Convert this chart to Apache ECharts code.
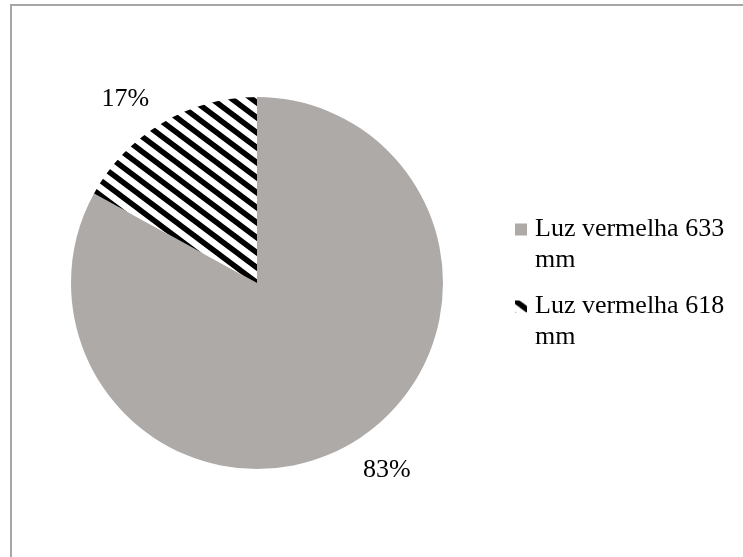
<!DOCTYPE html>
<html><head><meta charset="utf-8">
<script src="https://cdn.jsdelivr.net/npm/echarts@6/dist/echarts.min.js"></script>
<style>html,body{margin:0;padding:0;background:#fff}#c{width:743px;height:557px}</style>
</head><body><div id="c"></div>
<script>
var categories = ['Luz vermelha 633 mm', 'Luz vermelha 618 mm'];
var values = [83, 17];

function stripe() {
  var w = 20, h = 15;
  var cv = document.createElement('canvas');
  cv.width = w; cv.height = h;
  var ctx = cv.getContext('2d');
  ctx.fillStyle = '#fff'; ctx.fillRect(0, 0, w, h);
  ctx.strokeStyle = '#000'; ctx.lineWidth = 5.5;
  [-w, 0, w].forEach(function (o) {
    ctx.beginPath(); ctx.moveTo(o - w, -h); ctx.lineTo(o + 2 * w, 2 * h); ctx.stroke();
  });
  return cv;
}

var chart = echarts.init(document.getElementById('c'), null, {renderer: 'canvas'});
var font = '"Liberation Serif", "Times New Roman", serif';
chart.setOption({
  animation: false,
  graphic: [{
    type: 'rect', shape: {x: 11, y: 5, width: 800, height: 700},
    style: {fill: 'none', stroke: '#a6a6a6', lineWidth: 2}, silent: true
  }],
  legend: {
    orient: 'vertical', left: 510, top: 178,
    itemWidth: 12, itemHeight: 12, itemGap: -16, icon: 'rect',
    textStyle: {fontFamily: font, fontSize: 26, color: '#000', lineHeight: 31,
      padding: [0, 0, 0, 3]},
    formatter: function (n) { return ' \n' + n.replace(' mm', '\nmm'); },
    data: categories
  },
  series: [{
    type: 'pie', center: [257, 283], radius: 186,
    startAngle: 90, clockwise: true,
    label: {show: true, position: 'outside', formatter: '{d}%',
      fontFamily: font, fontSize: 26, color: '#000'},
    labelLine: {show: false, length: 28, length2: 0},
    labelLayout: function (p) {
      return p.dataIndex === 0 ? {dx: -8, dy: 3} : {dx: 6};
    },
    itemStyle: {borderWidth: 0},
    emphasis: {disabled: true},
    data: [
      {name: categories[0], value: values[0], itemStyle: {color: '#aeaaa8'}},
      {name: categories[1], value: values[1], itemStyle: {color: {image: stripe(), repeat: 'repeat'}}}
    ]
  }]
});
</script></body></html>
